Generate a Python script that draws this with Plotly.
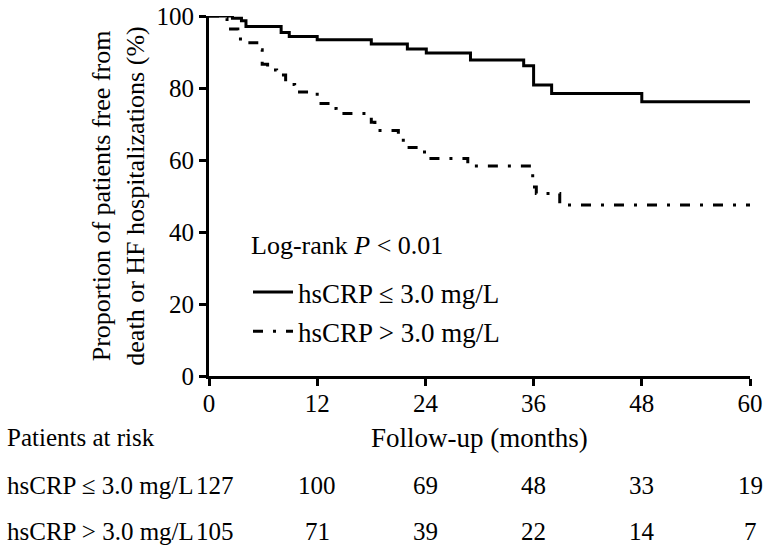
import plotly.graph_objects as go

# Kaplan-Meier curves (months, % free from event)
low_t = [0, 2.6, 3.6, 4.1, 8.0, 8.9, 12.0, 18.0, 22.0, 24.1, 29.0, 34.9, 36.0, 38.0, 48.0, 60]
low_s = [100, 99.4, 98.7, 97.1, 95.4, 94.3, 93.4, 92.2, 90.8, 89.7, 87.8, 86.2, 80.8, 78.5, 76.2, 76.2]

high_t = [0, 1.5, 2.0, 3.2, 4.0, 5.3, 5.9, 6.5, 7.5, 8.5, 9.5, 12.0, 13.6, 14.1, 18.0, 18.4,
          21.0, 21.9, 23.9, 28.7, 35.9, 36.3, 38.9, 60]
high_s = [100, 99.4, 96.4, 93.6, 92.6, 90.6, 86.6, 85.0, 83.6, 81.0, 78.9, 75.7, 74.3, 72.9, 70.5, 68.2,
          65.5, 63.5, 60.4, 58.3, 52.5, 50.7, 47.5, 47.5]

# Patients at risk table
risk_times = [0, 12, 24, 36, 48, 60]
risk_low = [127, 100, 69, 48, 33, 19]
risk_high = [105, 71, 39, 22, 14, 7]

x_ticks = [0, 12, 24, 36, 48, 60]
y_ticks = [0, 20, 40, 60, 80, 100]

label_low = "hsCRP ≤ 3.0 mg/L"
label_high = "hsCRP > 3.0 mg/L"

FONT = "Liberation Serif, Times New Roman, serif"

fig = go.Figure()
fig.add_trace(go.Scatter(
    x=low_t, y=low_s, mode="lines", line=dict(color="black", width=3, shape="hv"),
    name=label_low, legendgroup="a", cliponaxis=False))
fig.add_trace(go.Scatter(
    x=high_t, y=high_s, mode="lines",
    line=dict(color="black", width=3, shape="hv", dash="10px,10px,3px,10px"),
    name=label_high, legendgroup="b", cliponaxis=False))

annotations = []
annotations.append(dict(text="Log-rank <i>P</i> < 0.01", x=(249 - 209) / 541, xref="paper",
                        xanchor="left", y=(376 - 245) / 360, yref="paper", yanchor="middle",
                        showarrow=False, font=dict(size=26)))
annotations.append(dict(text="Patients at risk", x=-0.377, xref="paper", xanchor="left",
                        y=(376 - 437) / 360, yref="paper", yanchor="middle", showarrow=False,
                        font=dict(size=25)))
annotations.append(dict(text="Follow-up (months)", x=30, xref="x", xanchor="center",
                        y=(376 - 438) / 360, yref="paper", yanchor="middle", showarrow=False,
                        font=dict(size=27)))
for lab, vals, py in [(label_low, risk_low, 485), (label_high, risk_high, 531)]:
    annotations.append(dict(text=lab, x=-0.377, xref="paper", xanchor="left",
                            y=(376 - py) / 360, yref="paper", yanchor="middle", showarrow=False,
                            font=dict(size=25)))
    for i, (t, v) in enumerate(zip(risk_times, vals)):
        annotations.append(dict(text=str(v), x=t, xref="x", xanchor="center",
                                xshift=6 if i == 0 else 0,
                                y=(376 - py) / 360, yref="paper", yanchor="middle",
                                showarrow=False, font=dict(size=25)))

fig.update_layout(
    width=768, height=554,
    margin=dict(l=209, r=18, t=16, b=178, autoexpand=False),
    paper_bgcolor="white", plot_bgcolor="white",
    font=dict(family=FONT, size=25, color="black"),
    showlegend=True,
    legend=dict(
        x=(248 - 209) / 541, y=(376 - 268) / 360, xanchor="left", yanchor="top",
        bgcolor="rgba(0,0,0,0)", tracegroupgap=1, font=dict(size=27), itemwidth=40,
    ),
    annotations=annotations,
)
fig.update_xaxes(
    range=[0, 60], tickvals=x_ticks, showline=True, linecolor="black", linewidth=3,
    ticks="outside", ticklen=7, tickwidth=3, tickcolor="black", showgrid=False, zeroline=False,
    automargin=False, tickfont=dict(size=25), ticklabelstandoff=-4,
)
fig.update_yaxes(
    range=[0, 100], tickvals=y_ticks, showline=True, linecolor="black", linewidth=3,
    ticks="outside", ticklen=7, tickwidth=3, tickcolor="black", showgrid=False, zeroline=False,
    automargin=False, tickfont=dict(size=25),
    title=dict(text="Proportion of patients free from<br>death or HF hospitalizations (%)",
               standoff=5, font=dict(size=26)),
)

fig.write_html("out.html", config={"displayModeBar": False},
               post_script="document.body.style.margin='0px';")
